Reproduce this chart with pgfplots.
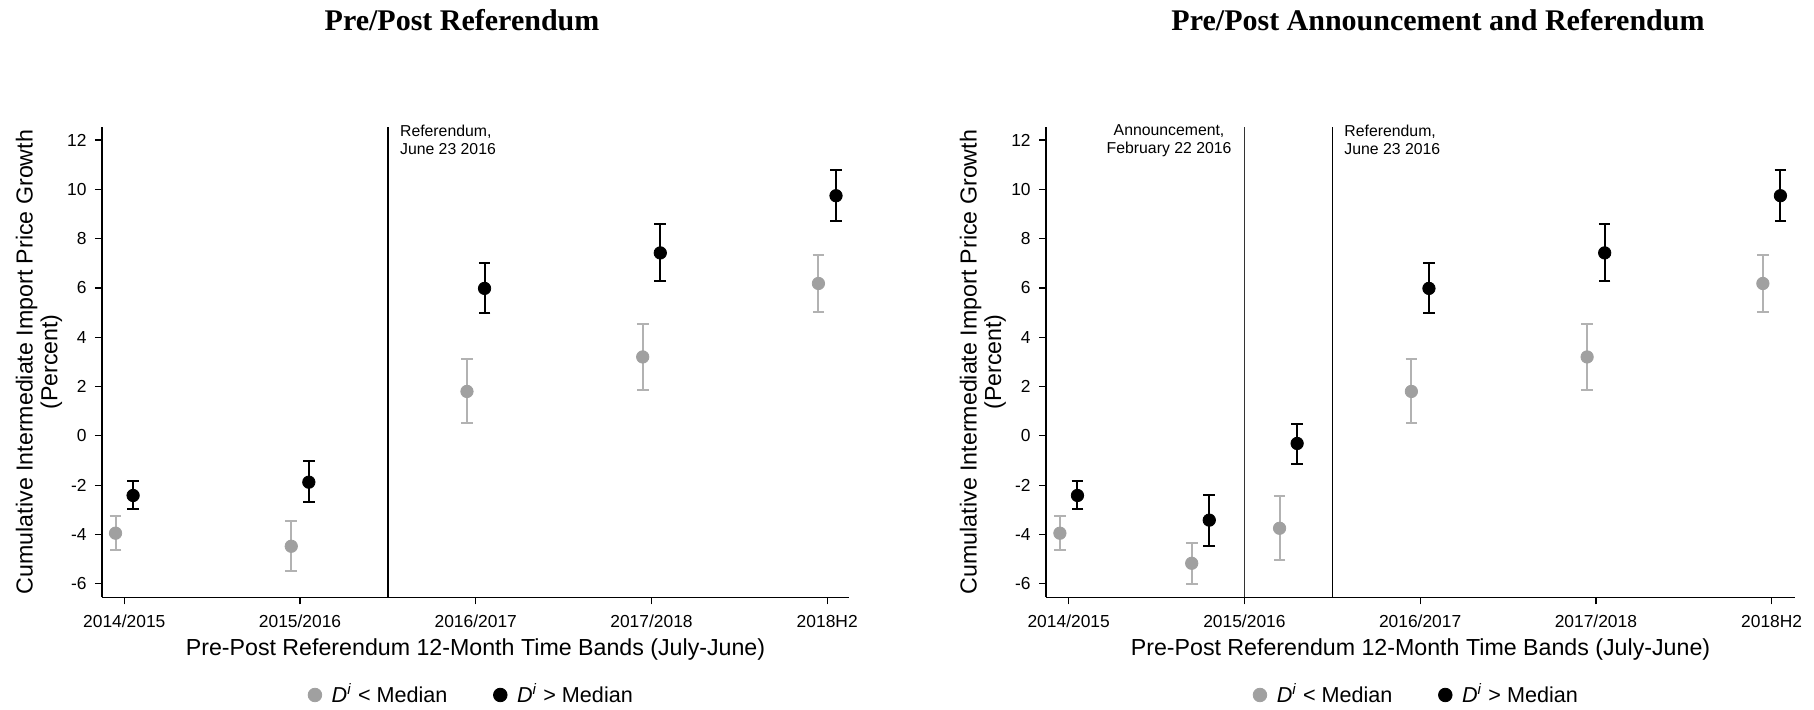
\documentclass[border=0pt]{standalone}
\usepackage{fontspec}
\setmainfont{Liberation Sans}
\newfontfamily\titlefont{Liberation Serif}
\usepackage{pgfplots}
\usepackage{pgfplotstable}
\pgfplotsset{compat=1.18}
\definecolor{ptgrey}{RGB}{160,160,160}
\definecolor{bargrey}{RGB}{178,178,178}

\pgfplotstableread{
x     y      ep    em
-0.05 -3.95  0.70  0.68
0.95  -4.48  1.01  1.00
1.95   1.80  1.31  1.30
2.95   3.20  1.32  1.33
3.95   6.18  1.15  1.14
}\leftgrey
\pgfplotstableread{
x     y      ep    em
0.05  -2.42  0.58  0.56
1.05  -1.88  0.84  0.82
2.05   5.98  1.02  1.00
3.05   7.42  1.16  1.14
4.05   9.74  1.06  1.04
}\leftblack
\pgfplotstableread{
x     y      ep    em
-0.05 -3.95  0.70  0.68
0.70  -5.17  0.82  0.85
1.20  -3.75  1.30  1.30
1.95   1.80  1.31  1.30
2.95   3.20  1.32  1.33
3.95   6.18  1.15  1.14
}\rightgrey
\pgfplotstableread{
x     y      ep    em
0.05  -2.42  0.58  0.56
0.80  -3.42  1.02  1.03
1.30  -0.31  0.80  0.83
2.05   5.98  1.02  1.00
3.05   7.42  1.16  1.14
4.05   9.74  1.06  1.04
}\rightblack

\pgfplotsset{
  mystyle/.style={
    scale only axis, height=235.3pt,
    ymin=-6.55, ymax=12.54,
    axis x line*=bottom, axis y line*=left,
    tick align=outside, major tick length=3.5pt,
    ytick={-6,-4,-2,0,2,4,6,8,10,12},
    yticklabels={-6,-4,-2,0,2,4,6,8,10,12},
    xtick={0,1,2,3,4},
    xticklabels={2014/2015,2015/2016,2016/2017,2017/2018,2018H2},
    tick label style={font=\fontsize{8.7}{10}\selectfont},
    yticklabel style={anchor=east, inner sep=0pt, xshift=-4pt},
    xticklabel style={anchor=base, inner sep=0pt, yshift=-11.7pt},
    axis line style={line width=0.6pt},
    every tick/.style={line width=0.6pt, black},
    xlabel={Pre-Post Referendum 12-Month Time Bands (July-June)},
    xlabel style={at={(axis description cs:0.5,-0.112)}, anchor=center, font=\fontsize{11.6}{13}\selectfont},
    ylabel={Cumulative Intermediate Import Price Growth\\(Percent)},
    ylabel style={at={(axis description cs:-0.0843,0.5)}, anchor=center, align=center, font=\fontsize{11.6}{12.3}\selectfont},
    legend style={at={(axis description cs:0.5,-0.2076)}, anchor=center, draw=none, fill=none,
      legend columns=2, font=\fontsize{10.8}{12}\selectfont,
      /tikz/every even column/.append style={column sep=18pt},
      nodes={inner xsep=5pt}},
    legend image code/.code={\draw[#1, mark size=3.4pt] plot coordinates {(0.15cm,0cm)};},
    clip=false,
  },
  greyser/.style={only marks, mark=*, mark size=3.1pt, color=ptgrey, mark options={fill=ptgrey, draw=ptgrey},
    error bars/.cd, y dir=both, y explicit,
    error bar style={line width=1pt, color=bargrey},
    error mark options={rotate=90, mark size=2.9pt, line width=1pt, color=bargrey}},
  blackser/.style={only marks, mark=*, mark size=3.1pt, color=black, mark options={fill=black, draw=black},
    error bars/.cd, y dir=both, y explicit,
    error bar style={line width=1pt, color=black},
    error mark options={rotate=90, mark size=2.9pt, line width=1pt, color=black}},
}

\begin{document}
\begin{tikzpicture}
\path[use as bounding box] (0pt,0pt) rectangle (907pt,355pt);
\node[font=\titlefont\bfseries\fontsize{15}{18}\selectfont, anchor=base] at (231pt,339.6pt) {Pre/Post Referendum};
\node[font=\titlefont\bfseries\fontsize{15}{18}\selectfont, anchor=base] at (719pt,339.6pt) {Pre/Post Announcement and Referendum};

\begin{axis}[mystyle, width=373.5pt, at={(51pt,56.35pt)}, anchor=south west, xmin=-0.127, xmax=4.124]
\addplot+[greyser] table[x=x, y=y, y error plus=ep, y error minus=em] {\leftgrey};
\addlegendentry{\textit{D}\textsuperscript{\textit{i}} < Median}
\addplot+[blackser] table[x=x, y=y, y error plus=ep, y error minus=em] {\leftblack};
\addlegendentry{\textit{D}\textsuperscript{\textit{i}} > Median}
\addplot[black, line width=0.6pt, forget plot] coordinates {(1.5,-6.55) (1.5,12.54)};
\node[anchor=north west, inner sep=0pt, align=left, font=\fontsize{7.9}{9}\selectfont, xshift=5.9pt, yshift=1pt] at (axis cs:1.5,12.54) {Referendum,\\June 23 2016};
\end{axis}

\begin{axis}[mystyle, width=374.5pt, at={(523pt,56.35pt)}, anchor=south west, xmin=-0.129, xmax=4.133]
\addplot+[greyser] table[x=x, y=y, y error plus=ep, y error minus=em] {\rightgrey};
\addlegendentry{\textit{D}\textsuperscript{\textit{i}} < Median}
\addplot+[blackser] table[x=x, y=y, y error plus=ep, y error minus=em] {\rightblack};
\addlegendentry{\textit{D}\textsuperscript{\textit{i}} > Median}
\addplot[black!80, line width=0.5pt, forget plot] coordinates {(1,-6.55) (1,12.54)};
\addplot[black, line width=0.6pt, forget plot] coordinates {(1.5,-6.55) (1.5,12.54)};
\node[anchor=north east, inner sep=0pt, align=center, font=\fontsize{7.9}{9}\selectfont, xshift=-6.3pt, yshift=1pt] at (axis cs:1,12.54) {Announcement,\\February 22 2016};
\node[anchor=north west, inner sep=0pt, align=left, font=\fontsize{7.9}{9}\selectfont, xshift=5.9pt, yshift=1pt] at (axis cs:1.5,12.54) {Referendum,\\June 23 2016};
\end{axis}
\end{tikzpicture}
\end{document}
